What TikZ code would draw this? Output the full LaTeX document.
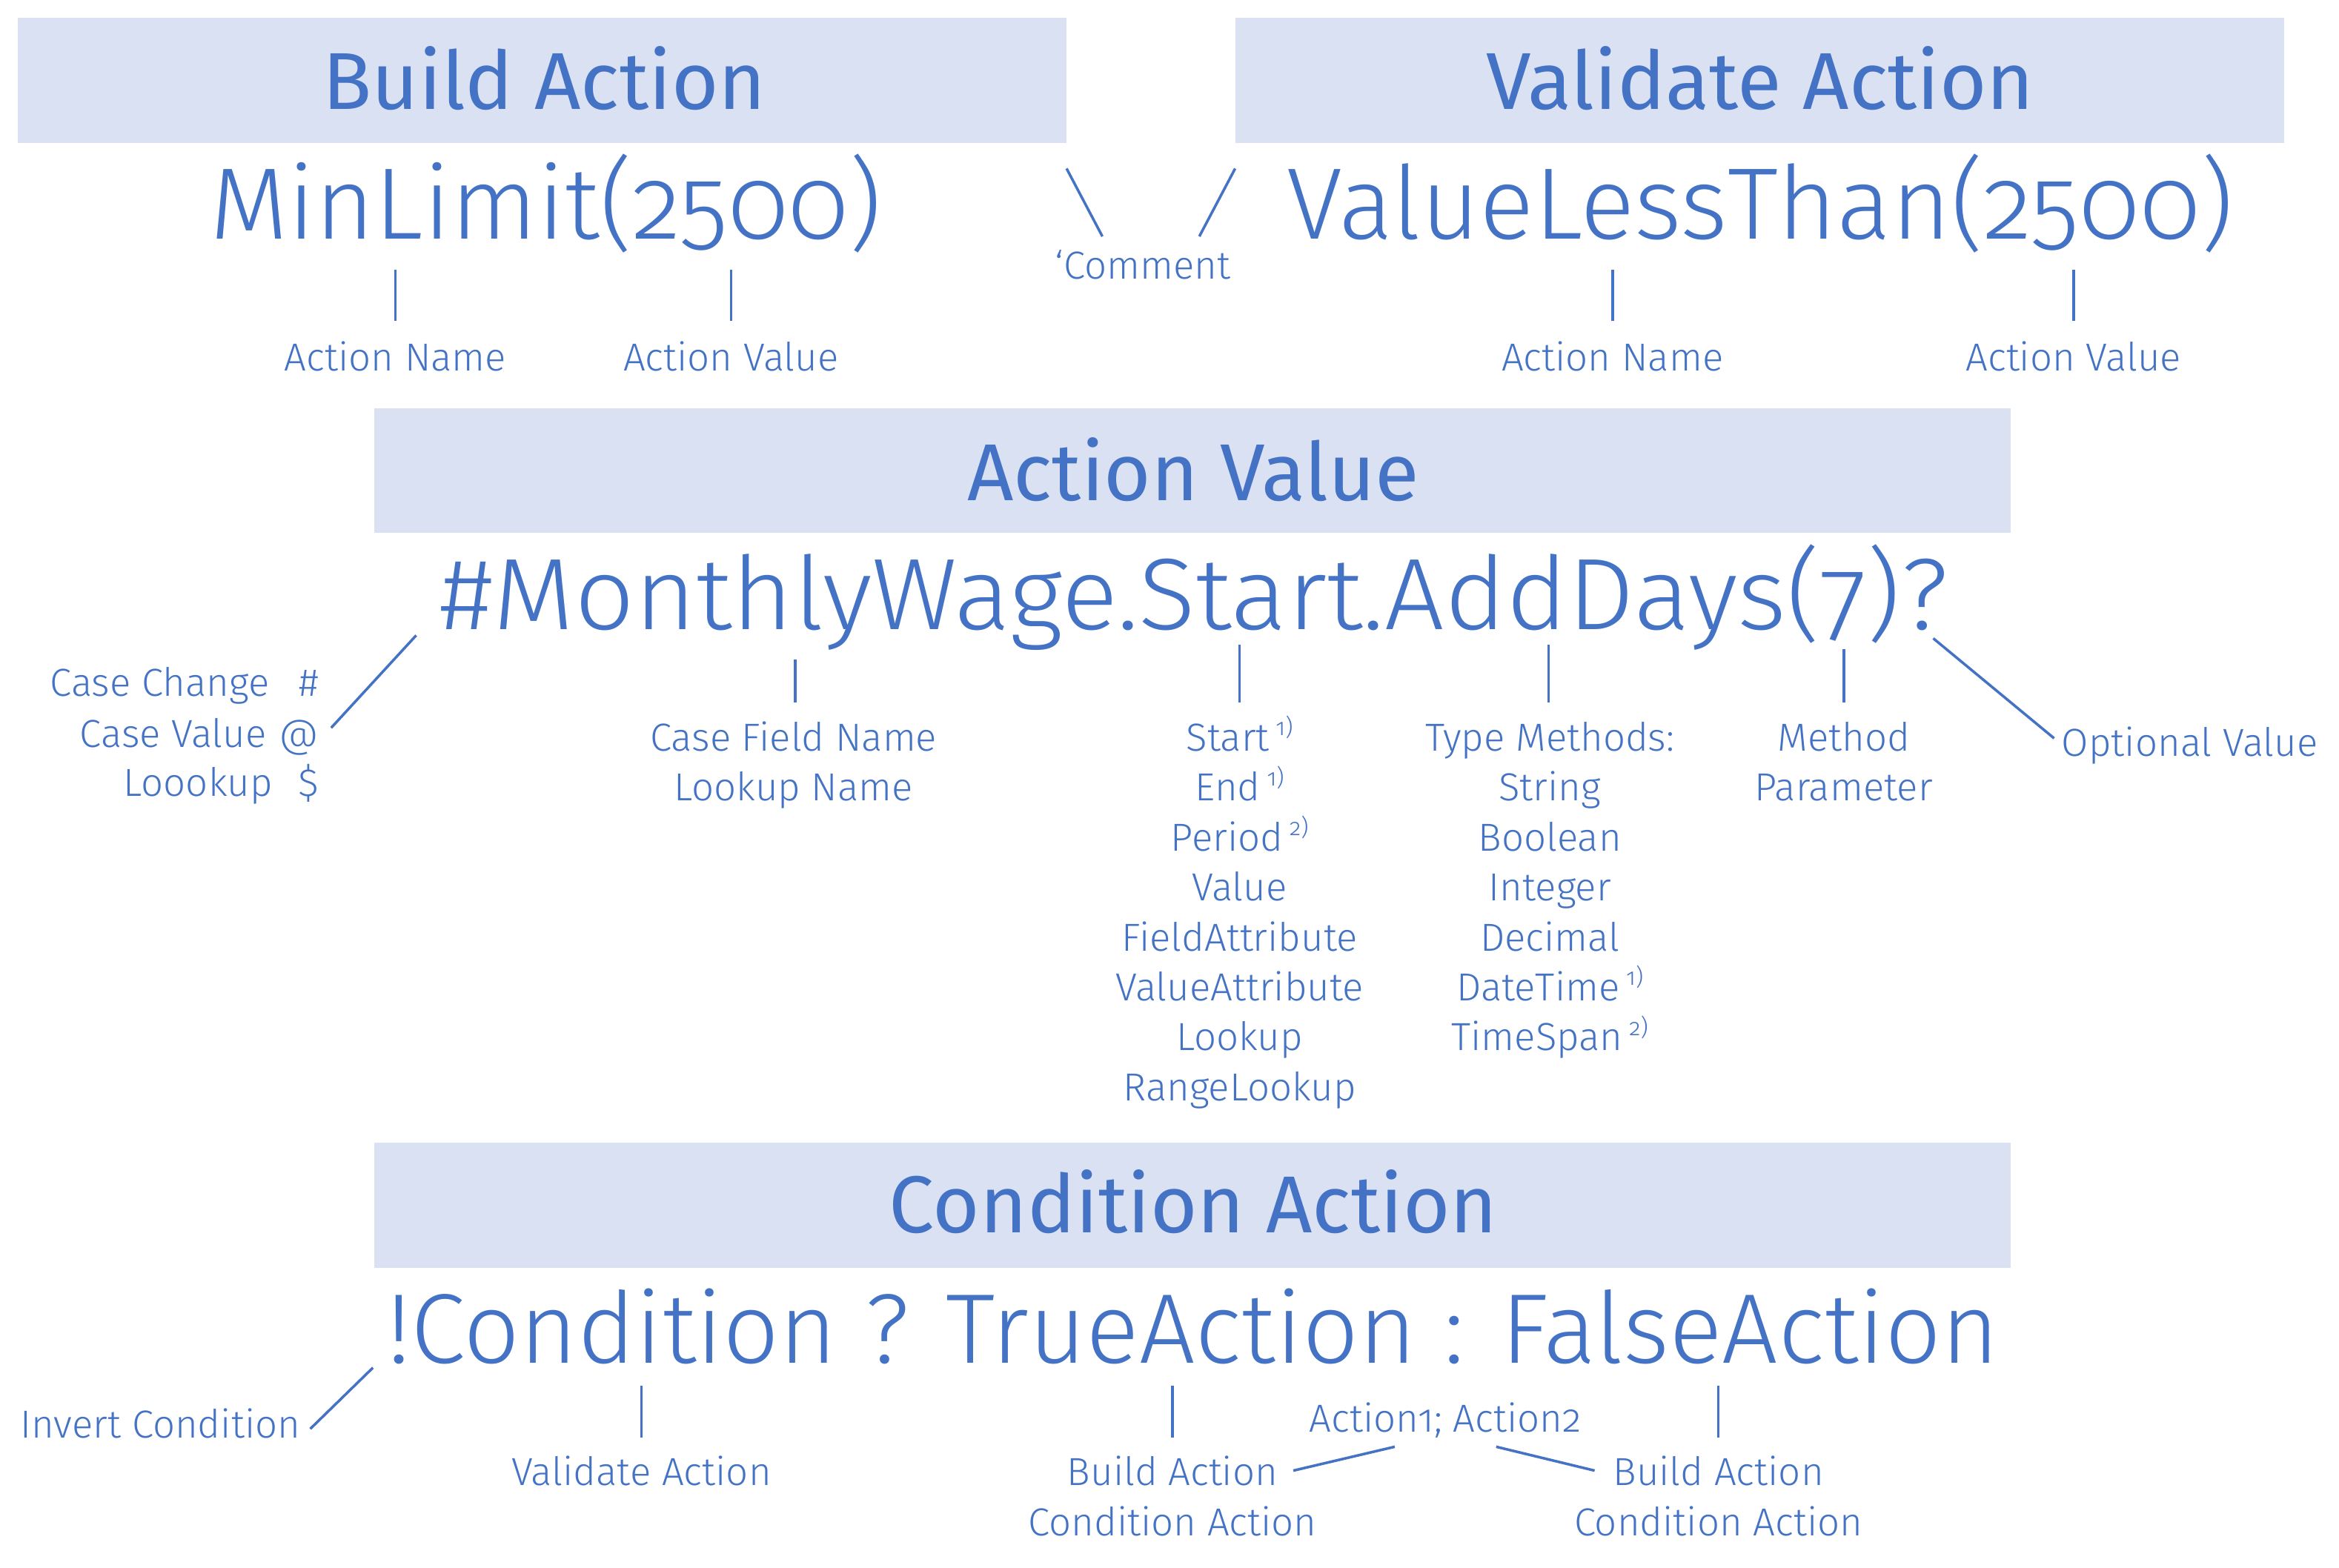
\documentclass[tikz,border=0pt]{standalone}
\usepackage{fontspec}
\setmainfont{Fira Sans Light}[Numbers=OldStyle]
\newfontfamily\headfont{Fira Sans}[Numbers=OldStyle]
\definecolor{ink}{HTML}{4472C4}
\definecolor{band}{HTML}{DAE1F3}
\newcommand\fnmark[1]{\,\raisebox{0.75ex}{\fontsize{9}{9}\selectfont #1}}
\tikzset{
  txt/.style={text=ink, inner sep=0pt, anchor=base},
  lbl/.style={txt, font=\fontsize{15}{18}\selectfont},
  big/.style={txt, font=\fontsize{39}{45}\selectfont},
  head/.style={txt, font=\headfont\fontsize{31}{37}\selectfont},
  bandbox/.style={fill=band},
  link/.style={draw=ink, line width=1pt},
}
\begin{document}
\begin{tikzpicture}[x=0.020128cm, y=-0.020128cm]
\useasboundingbox (0,0) rectangle (1568,1051);

% title bands
\fill[bandbox] (12,12) rectangle (715,96);
\fill[bandbox] (828,12) rectangle (1531,96);
\fill[bandbox] (251,274) rectangle (1348,357);
\fill[bandbox] (251,766) rectangle (1348,850);

\node[head] (tbuild) at (365,73.5) {Build Action};
\node[head] (tvalid) at (1180,73.5) {Validate Action};
\node[head] (tvalue) at (800,335.5) {Action Value};
\node[head] (tcond)  at (800,826.5) {Condition Action};

% build / validate examples
\node[big] (minlimit) at (366,160) {MinLimit(2500)};
\node[big] (lessthan) at (1180,160) {ValueLessThan(2500)};

\node[lbl] (bname)  at (265,248.5) {Action Name};
\node[lbl] (bvalue) at (490,248.5) {Action Value};
\node[lbl] (vname)  at (1081,248.5) {Action Name};
\node[lbl] (vvalue) at (1390,248.5) {Action Value};
\node[lbl] (comment) at (766,187) {‘Comment};

\coordinate (bn1) at (265,181); \coordinate (bn2) at (265,215);
\coordinate (bv1) at (490,181); \coordinate (bv2) at (490,215);
\coordinate (vn1) at (1081,181); \coordinate (vn2) at (1081,215);
\coordinate (vv1) at (1390,181); \coordinate (vv2) at (1390,215);
\draw[link] (bn1) -- (bn2);
\draw[link] (bv1) -- (bv2);
\draw[link] (vn1) -- (vn2);
\draw[link] (vv1) -- (vv2);

\coordinate (cl1) at (715,113); \coordinate (cl2) at (739,158.5);
\coordinate (cr1) at (828,113); \coordinate (cr2) at (804,158.5);
\draw[link] (cl1) -- (cl2);
\draw[link] (cr1) -- (cr2);

% action value
\node[big] (monthly) at (800.5,422) {\scalebox{1.038}[1]{\#MonthlyWage.Start.AddDays(7)?}};

\node[lbl, anchor=base east] (cchange) at (181,467) {Case Change};
\node[lbl, anchor=base east] (cvalue)  at (179,501) {Case Value};
\node[lbl, anchor=base east] (clookup) at (183,534) {Loookup};
\node[lbl, anchor=base east] (shash)   at (214,467) {\#};
\node[lbl, anchor=base east] (sat)     at (214,501) {@};
\node[lbl, anchor=base east] (sdollar) at (214,534) {\$};
\coordinate (pfx1) at (279,426); \coordinate (pfx2) at (222,488);
\draw[link] (pfx1) -- (pfx2);

\node[lbl] (fieldname)  at (532,503.5) {Case Field Name};
\node[lbl] (lookupname) at (532,537) {Lookup Name};
\coordinate (fn1) at (533,442); \coordinate (fn2) at (533,471);
\draw[link] (fn1) -- (fn2);

\node[lbl] (pstart)  at (831,503.5) {Start\fnmark{1)}};
\node[lbl] (pend)    at (831,537)   {End\fnmark{1)}};
\node[lbl] (pperiod) at (831,570.5) {Period\fnmark{2)}};
\node[lbl] (pvalue)  at (831,604)   {Value};
\node[lbl] (pfattr)  at (831,637.5) {FieldAttribute};
\node[lbl] (pvattr)  at (831,671)   {ValueAttribute};
\node[lbl] (plookup) at (831,704.5) {Lookup};
\node[lbl] (prange)  at (831,738)   {RangeLookup};
\coordinate (pp1) at (831,432); \coordinate (pp2) at (831,471);
\draw[link] (pp1) -- (pp2);

\node[lbl] (tmeth)   at (1039,503.5) {Type Methods:};
\node[lbl] (tstring) at (1039,537)   {String};
\node[lbl] (tbool)   at (1039,570.5) {Boolean};
\node[lbl] (tint)    at (1039,604)   {Integer};
\node[lbl] (tdec)    at (1039,637.5) {Decimal};
\node[lbl] (tdate)   at (1039,671)   {DateTime\fnmark{1)}};
\node[lbl] (tspan)   at (1039,704.5) {TimeSpan\fnmark{2)}};
\coordinate (tm1) at (1038,432); \coordinate (tm2) at (1038,471);
\draw[link] (tm1) -- (tm2);

\node[lbl] (mmethod) at (1236,503.5) {Method};
\node[lbl] (mparam)  at (1236,537)   {Parameter};
\coordinate (mp1) at (1236,435); \coordinate (mp2) at (1236,471);
\draw[link] (mp1) -- (mp2);

\node[lbl] (optional) at (1468,507) {Optional Value};
\coordinate (ov1) at (1296,428); \coordinate (ov2) at (1377,495);
\draw[link] (ov1) -- (ov2);

% condition action
\node[big, font=\fontsize{38}{44}\selectfont] (condexpr) at (800,914) {!Condition ? TrueAction : FalseAction};

\node[lbl] (invert) at (107.5,964) {Invert Condition};
\coordinate (iv1) at (250,917); \coordinate (iv2) at (208,958);
\draw[link] (iv1) -- (iv2);

\node[lbl] (cvalid) at (430,996) {Validate Action};
\coordinate (cv1) at (430,929); \coordinate (cv2) at (430,964);
\draw[link] (cv1) -- (cv2);

\node[lbl] (multi) at (969,960) {Action1; Action2};

\node[lbl] (tbuildl) at (786,996)    {Build Action};
\node[lbl] (tcondl)  at (786,1029.5) {Condition Action};
\coordinate (ta1) at (786,929); \coordinate (ta2) at (786,964);
\draw[link] (ta1) -- (ta2);

\node[lbl] (fbuildl) at (1152,996)    {Build Action};
\node[lbl] (fcondl)  at (1152,1029.5) {Condition Action};
\coordinate (fa1) at (1152,929); \coordinate (fa2) at (1152,964);
\draw[link] (fa1) -- (fa2);

\coordinate (ml1) at (935,970); \coordinate (ml2) at (867,986);
\coordinate (mr1) at (1003,970); \coordinate (mr2) at (1069,986);
\draw[link] (ml1) -- (ml2);
\draw[link] (mr1) -- (mr2);
\end{tikzpicture}
\end{document}
